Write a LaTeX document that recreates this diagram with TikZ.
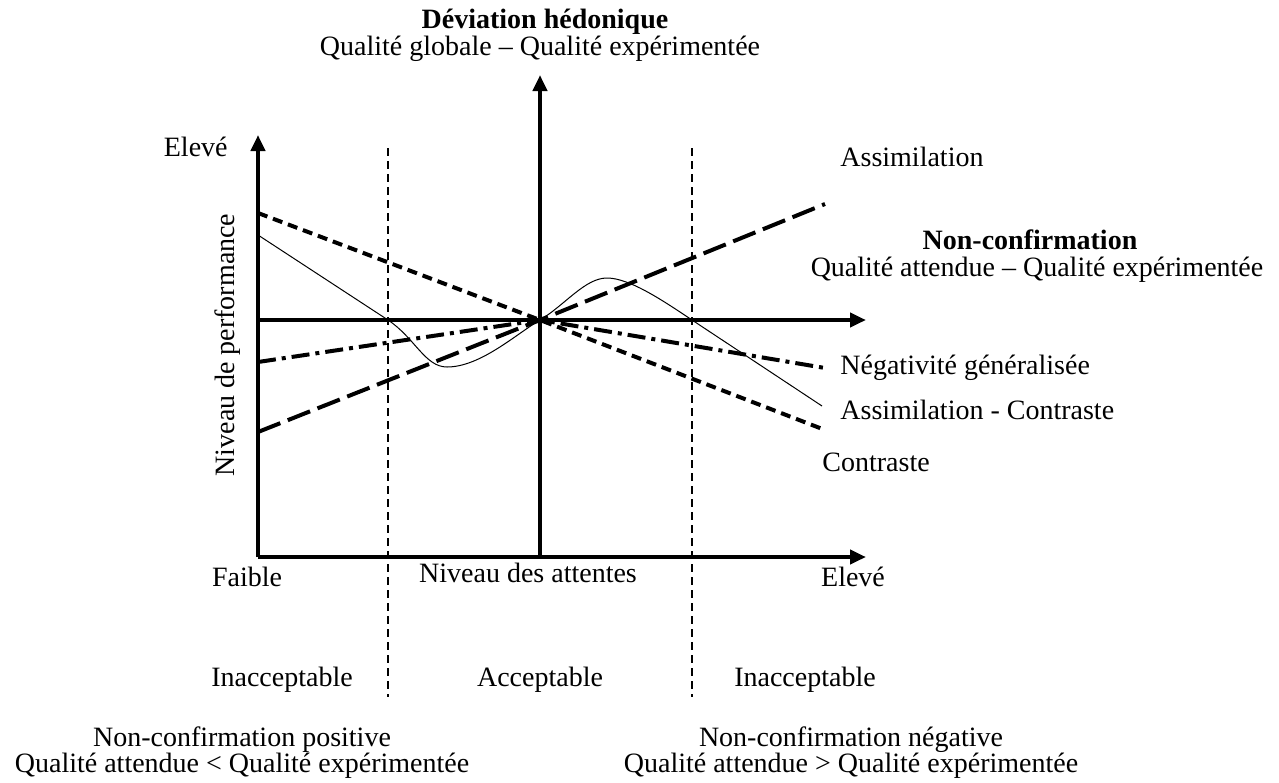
\documentclass[tikz,border=0pt]{standalone}
\usepackage{fontspec}
\setmainfont{Liberation Serif}
\usetikzlibrary{arrows.meta}
\begin{document}
\begin{tikzpicture}[x=0.5pt,y=-0.5pt,
  axis/.style={line width=2pt,-{Triangle[length=8pt,width=7pt]}},
  sep/.style={line width=1.4pt,dash pattern=on 4pt off 2.5pt},
  contr/.style={line width=2pt,dash pattern=on 5pt off 3pt},
  assim/.style={line width=2pt,dash pattern=on 12pt off 4pt},
  negat/.style={line width=2pt,dash pattern=on 9pt off 3pt on 2pt off 3pt},
  thincurve/.style={line width=0.5pt},
  lbl/.style={font=\fontsize{14}{16}\selectfont, inner sep=0pt},
  ]
\useasboundingbox (0,0) rectangle (1279,782);
% axes
\coordinate (O) at (258,557);
\coordinate (Ytop) at (258,135);
\coordinate (Xend) at (866,557);
\coordinate (C) at (540,320);
\coordinate (Cbot) at (540,557);
\coordinate (Ctop) at (540,75);
\coordinate (Mleft) at (258,320);
\coordinate (Mright) at (866,320);
\draw[axis] (O) -- (Ytop);
\draw[axis] (O) -- (Xend);
\draw[axis] (Cbot) -- (Ctop);
\draw[axis] (Mleft) -- (Mright);
% separators
\coordinate (S1t) at (388,148);
\coordinate (S1b) at (388,697);
\coordinate (S2t) at (692,148);
\coordinate (S2b) at (692,697);
\draw[sep] (S1t) -- (S1b);
\draw[sep] (S2t) -- (S2b);
% curves
\coordinate (Ca) at (258,213);
\coordinate (Cb) at (825,430);
\draw[contr] (Ca) -- (C) -- (Cb);
\coordinate (Aa) at (258,432);
\coordinate (Ab) at (825,204);
\draw[assim] (Aa) -- (C) -- (Ab);
\coordinate (Na) at (258,362);
\coordinate (Nb) at (825,368);
\draw[negat] (Na) -- (C) -- (Nb);
\coordinate (Ta) at (258,235);
\coordinate (Tb) at (822,406);
\draw[thincurve] (Ta) -- (388,320) .. controls (415,338) and (425,367) .. (447,367)
  .. controls (480,367) and (515,335) .. (C)
  .. controls (565,305) and (585,278) .. (607,278)
  .. controls (630,278) and (665,302) .. (692,320) -- (Tb);
% labels
\node[lbl,font=\fontsize{14}{16}\selectfont\bfseries] (t1) at (545,22) {Déviation hédonique};
\node[lbl] (t2) at (540,49) {Qualité globale – Qualité expérimentée};
\node[lbl,anchor=east] (ey) at (228,147) {Elevé};
\node[lbl,anchor=west] (as) at (840,157) {Assimilation};
\node[lbl,font=\fontsize{14}{16}\selectfont\bfseries] (nc) at (1030,240) {Non-confirmation};
\node[lbl] (nc2) at (1037,270) {Qualité attendue – Qualité expérimentée};
\node[lbl,anchor=west] (ng) at (840,368) {Négativité généralisée};
\node[lbl,anchor=west] (ac) at (840,410) {Assimilation - Contraste};
\node[lbl,anchor=west] (co) at (822,462) {Contraste};
\node[lbl,rotate=90] (np) at (228,345) {Niveau de performance};
\node[lbl] (fa) at (247,577) {Faible};
\node[lbl] (na) at (528,573) {Niveau des attentes};
\node[lbl] (ex) at (853,577) {Elevé};
\node[lbl] (i1) at (282,680) {Inacceptable};
\node[lbl] (ac2) at (540,680) {Acceptable};
\node[lbl] (i2) at (805,680) {Inacceptable};
\node[lbl] (p1) at (242,740) {Non-confirmation positive};
\node[lbl] (p2) at (242,766) {Qualité attendue < Qualité expérimentée};
\node[lbl] (n1) at (851,740) {Non-confirmation négative};
\node[lbl] (n2) at (851,766) {Qualité attendue > Qualité expérimentée};
\end{tikzpicture}
\end{document}
